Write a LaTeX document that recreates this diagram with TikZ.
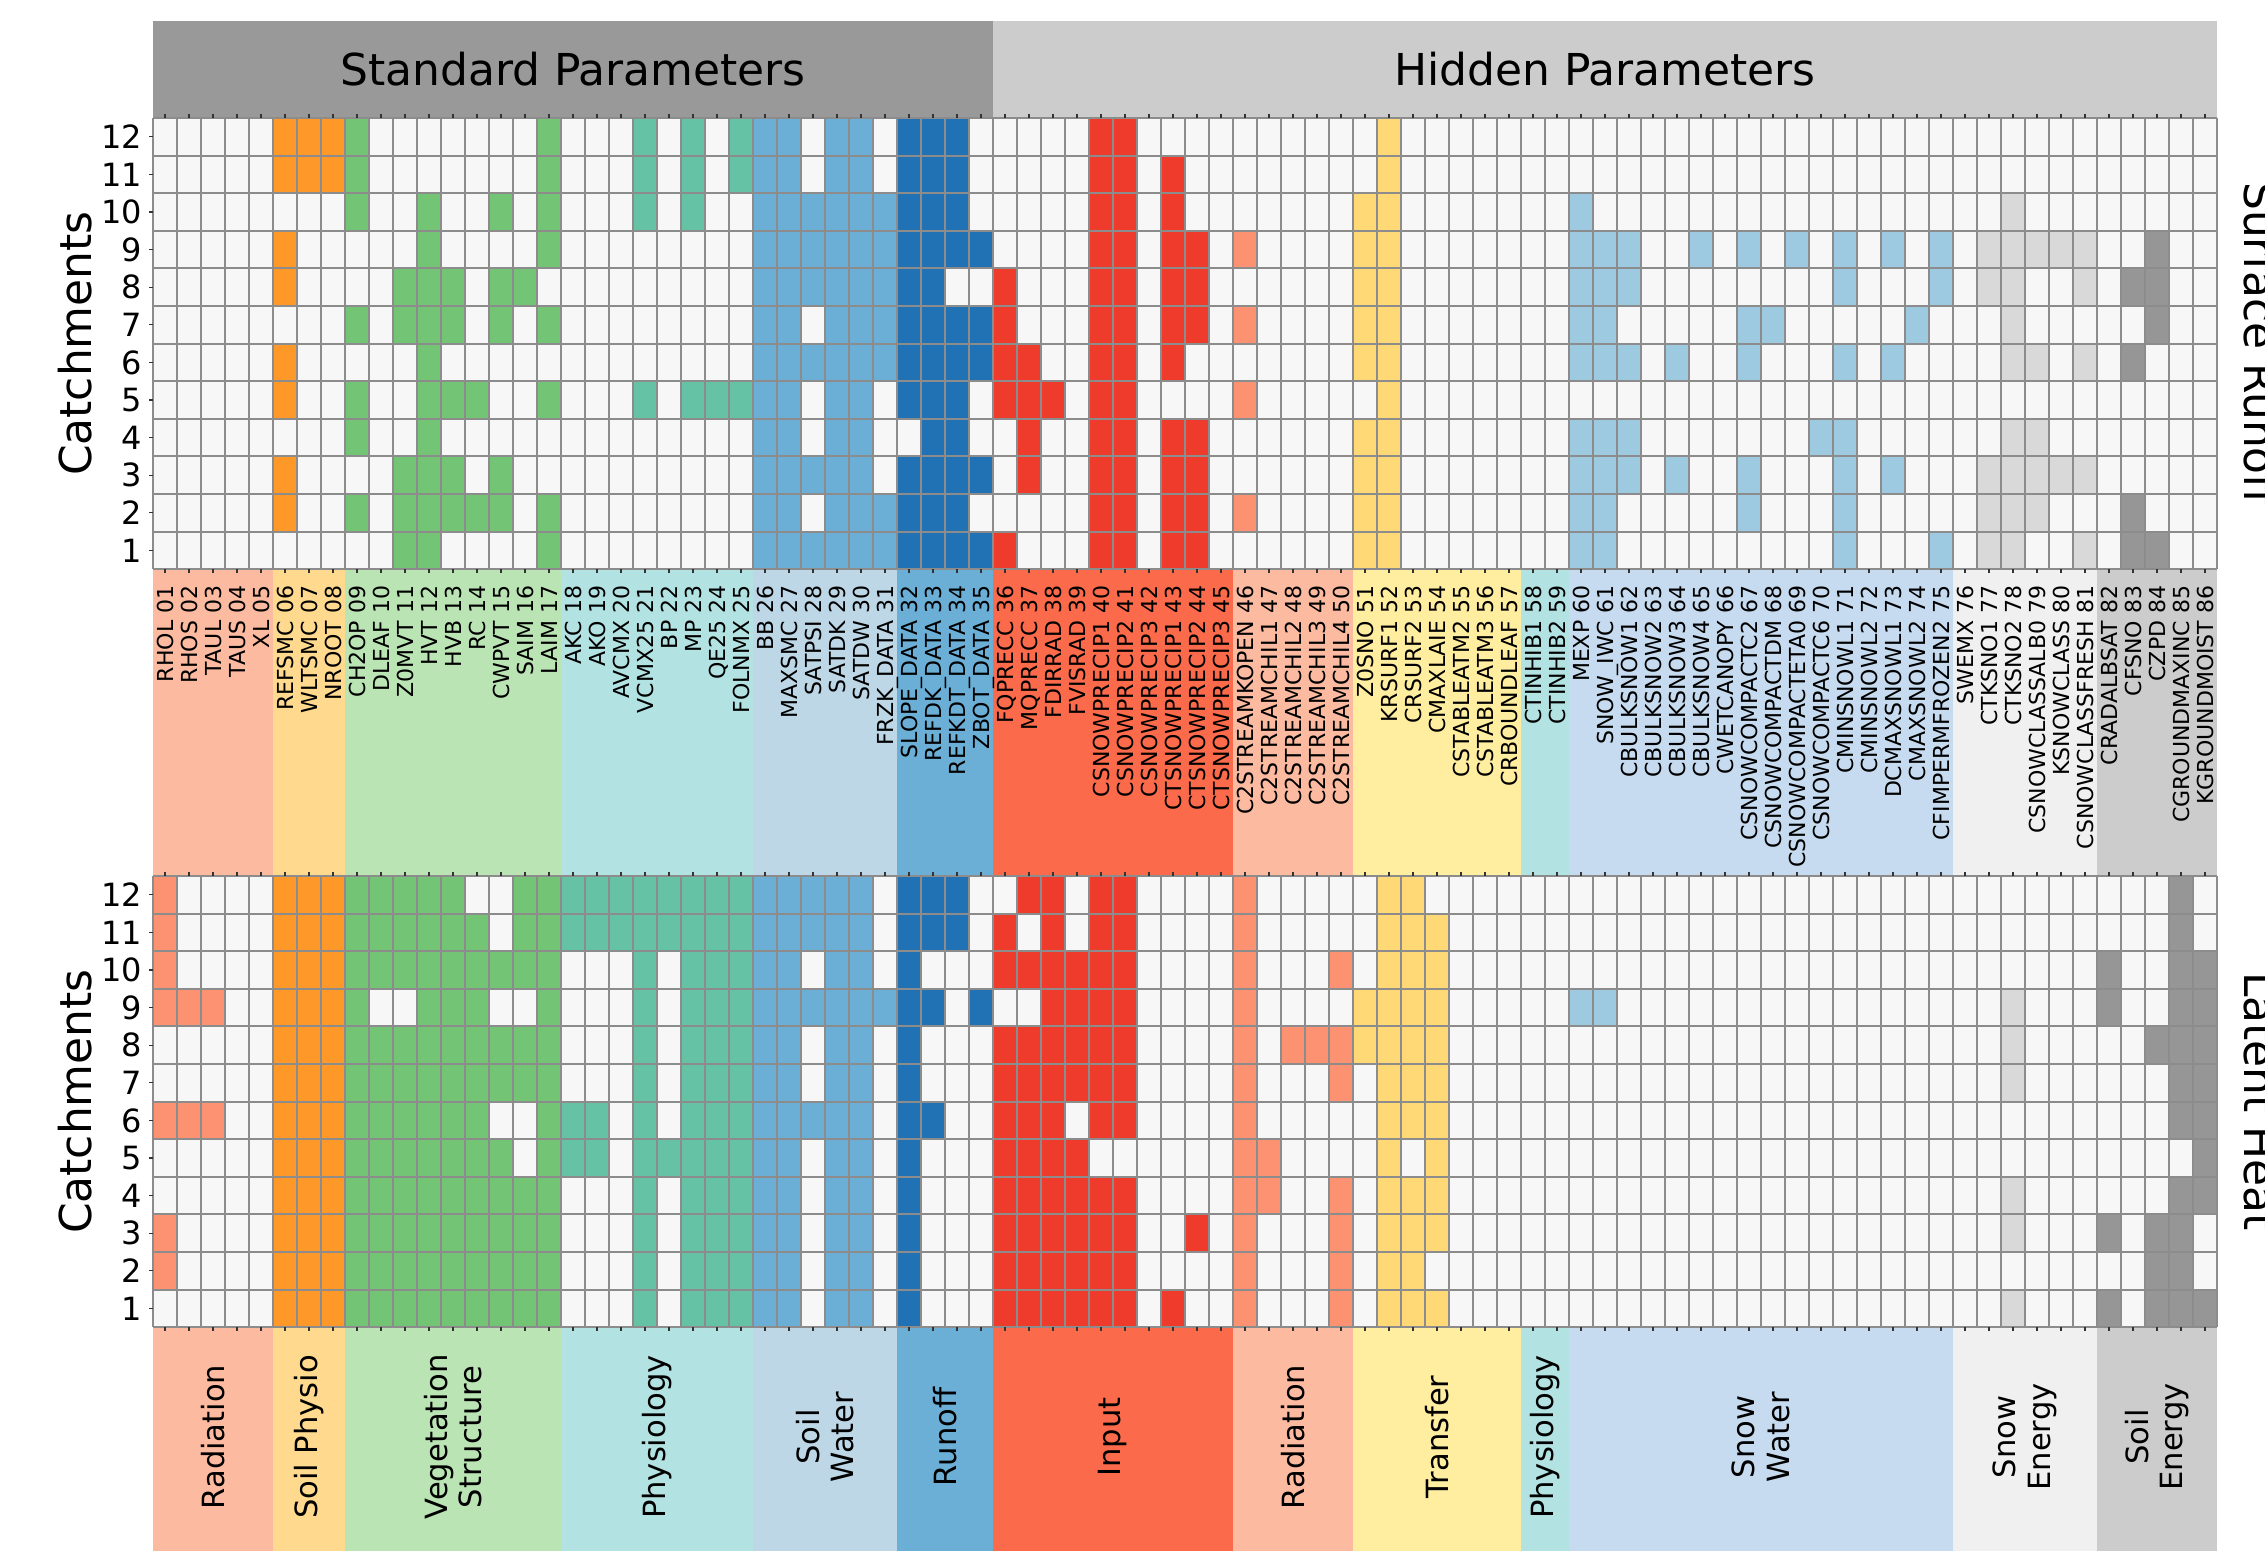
\documentclass[tikz,border=0pt]{standalone}
\usepackage{fontspec}
\setmainfont{DejaVu Sans}
\definecolor{emptyc}{HTML}{F7F7F7}
\definecolor{gridc}{HTML}{8C8C8C}
\definecolor{stdhd}{HTML}{999999}
\definecolor{hidhd}{HTML}{CCCCCC}
\definecolor{radband}{HTML}{FCBBA1}
\definecolor{soilband}{HTML}{FED98E}
\definecolor{vegband}{HTML}{BAE4B3}
\definecolor{physband}{HTML}{B2E2E2}
\definecolor{swband}{HTML}{BDD7E7}
\definecolor{roband}{HTML}{6BAED6}
\definecolor{inband}{HTML}{FB6A4A}
\definecolor{trband}{HTML}{FFEDA0}
\definecolor{snwband}{HTML}{C6DBEF}
\definecolor{sneband}{HTML}{F0F0F0}
\definecolor{soeband}{HTML}{CCCCCC}
\definecolor{radc}{HTML}{FC9272}
\definecolor{soilc}{HTML}{FE9929}
\definecolor{vegc}{HTML}{74C476}
\definecolor{physc}{HTML}{66C2A4}
\definecolor{swc}{HTML}{6BAED6}
\definecolor{roc}{HTML}{2171B5}
\definecolor{inc}{HTML}{EF3B2C}
\definecolor{trc}{HTML}{FED976}
\definecolor{snwc}{HTML}{9ECAE1}
\definecolor{snec}{HTML}{D9D9D9}
\definecolor{soec}{HTML}{969696}
\tikzset{
  biglab/.style={font=\fontsize{12.5}{15}\selectfont, inner sep=0pt},
  rowlab/.style={font=\fontsize{9.1}{11}\selectfont, inner sep=0pt, anchor=east},
  collab/.style={font=\fontsize{6.26}{7}\selectfont, inner sep=0pt, rotate=90, anchor=east,
    text height=4.57pt, text depth=0pt},
  grplab/.style={font=\fontsize{8.7}{9.8}\selectfont, inner sep=0pt, rotate=90, align=center},
  vline/.style={draw=gridc, line width=0.4pt},
  hline/.style={draw=gridc, line width=0.55pt},
  tick/.style={draw=black!80, line width=0.3pt}
}
\newcommand\hmcells[3]{\foreach \c/\rl in {#3}{\foreach \r in \rl{
  \fill[#2] ({153+24*(\c-1)},{-#1-37.6*(12-\r)}) rectangle +(24,-37.6);}}}
\newcommand\hmback[1]{\fill[emptyc] (153,-#1) rectangle (2217,{-#1-451.2});}
\newcommand\hmlines[1]{
  \foreach \i in {0,...,86} \draw[vline] ({153+24*\i},-#1) -- ++(0,-451.2);
  \foreach \j in {0,...,12} \draw[hline] (153,{-#1-37.6*\j}) -- ++(2064,0);
  \foreach \i in {1,...,86} {\draw[tick] ({141+24*\i},-#1) -- ++(0,4);
    \draw[tick] ({141+24*\i},{-#1-451.2}) -- ++(0,-4);}
  \foreach \j in {1,...,12} \draw[tick] (153,{-#1-37.6*\j+18.8}) -- ++(-4,0);}

\begin{document}
\begin{tikzpicture}[x=0.01cm, y=0.01cm]
\fill[white] (0,0) rectangle (2265,-1551);
\useasboundingbox (0,0) rectangle (2265,-1551);

\fill[stdhd] (153,-21) rectangle (993,-118);
\fill[hidhd] (993,-21) rectangle (2217,-118);
\node[biglab] (hdstd) at (573,-69.5) {Standard Parameters};
\node[biglab] (hdhid) at (1605,-69.5) {Hidden Parameters};

\foreach \a/\b/\bc/\gl in {1/5/radband/Radiation, 6/8/soilband/Soil Physio,
  9/17/vegband/{Vegetation\\Structure}, 18/25/physband/Physiology, 26/31/swband/{Soil\\Water},
  32/35/roband/Runoff, 36/45/inband/Input, 46/50/radband/Radiation, 51/57/trband/Transfer,
  58/59/physband/Physiology, 60/75/snwband/{Snow\\Water}, 76/81/sneband/{Snow\\Energy},
  82/86/soeband/{Soil\\Energy}} {
  \fill[\bc] ({153+24*(\a-1)},-569) rectangle ({153+24*\b},-876);
  \fill[\bc] ({153+24*(\a-1)},-1327) rectangle ({153+24*\b},-1551);
  \node[grplab] (grp\a) at ({153+12*(\a-1+\b)},-1437) {\gl};
}

\hmback{118}
\hmcells{118}{soilc}{6/{12,11,9,8,6,5,3,2},7/{12,11},8/{12,11}}
\hmcells{118}{vegc}{9/{12,11,10,7,5,4,2},11/{8,7,3,2,1},12/{10,9,8,7,6,5,4,3,2,1},13/{8,7,5,3,2},
  14/{5,2},15/{10,8,7,3,2},16/{8},17/{12,11,10,9,7,5,2,1}}
\hmcells{118}{physc}{21/{12,11,10,5},23/{12,11,10,5},24/{5},25/{12,11,5}}
\hmcells{118}{swc}{26/{1,...,12},27/{1,...,12},28/{10,9,8,6,3,1},29/{1,...,12},30/{1,...,12},
  31/{10,9,8,7,6,2,1}}
\hmcells{118}{roc}{32/{12,11,10,9,8,7,6,5,3,2,1},33/{1,...,12},34/{12,11,10,9,7,6,5,4,3,2,1},
  35/{9,7,6,3,1}}
\hmcells{118}{inc}{36/{8,7,6,5,1},37/{6,5,4,3},38/{5},40/{1,...,12},41/{1,...,12},
  43/{11,10,9,8,7,6,4,3,2,1},44/{9,8,7,4,3,2,1}}
\hmcells{118}{radc}{46/{9,7,5,2}}
\hmcells{118}{trc}{51/{10,9,8,7,6,4,3,2,1},52/{1,...,12}}
\hmcells{118}{snwc}{60/{10,9,8,7,6,4,3,2,1},61/{9,8,7,6,4,3,2,1},62/{9,8,6,4,3},64/{6,3},65/{9},
  67/{9,7,6,3,2},68/{7},69/{9},70/{4},71/{9,8,6,4,3,2,1},73/{9,6,3},74/{7},75/{9,8,1}}
\hmcells{118}{snec}{77/{9,8,3,2,1},78/{10,9,8,7,6,4,3,2,1},79/{9,6,4,3,2},80/{9,3},81/{9,8,6,3,1}}
\hmcells{118}{soec}{83/{8,6,2,1},84/{9,8,7,1}}
\hmlines{118}

\hmback{876}
\hmcells{876}{radc}{1/{12,11,10,9,6,3,2},2/{9,6},3/{9,6}}
\hmcells{876}{soilc}{6/{1,...,12},7/{1,...,12},8/{1,...,12}}
\hmcells{876}{vegc}{9/{1,...,12},10/{12,11,10,8,7,6,5,4,3,2,1},11/{12,11,10,8,7,6,5,4,3,2,1},
  12/{1,...,12},13/{1,...,12},14/{1,...,11},15/{10,8,7,5,4,3,2,1},16/{12,11,10,8,7,4,3,2,1},
  17/{1,...,12}}
\hmcells{876}{physc}{18/{12,11,6,5},19/{12,11,6,5},20/{12,11},21/{1,...,12},22/{12,11,5},
  23/{1,...,12},24/{1,...,12},25/{1,...,12}}
\hmcells{876}{swc}{26/{1,...,12},27/{1,...,12},28/{12,11,9,6},29/{1,...,12},30/{1,...,12},31/{9}}
\hmcells{876}{roc}{32/{1,...,12},33/{12,11,9,6},34/{12,11},35/{9}}
\hmcells{876}{inc}{36/{11,10,8,7,6,5,4,3,2,1},37/{12,10,8,7,6,5,4,3,2,1},38/{1,...,12},
  39/{10,9,8,7,5,4,3,2,1},40/{12,11,10,9,8,7,6,4,3,2,1},41/{12,11,10,9,8,7,6,4,3,2,1},43/{1},44/{3}}
\hmcells{876}{radc}{46/{1,...,12},47/{5,4},48/{8},49/{8},50/{10,8,7,4,3,2,1}}
\hmcells{876}{trc}{51/{9,8},52/{1,...,12},53/{12,11,10,9,8,7,6,4,3,2,1},54/{11,10,9,8,7,6,5,4,3,1}}
\hmcells{876}{snwc}{60/{9},61/{9}}
\hmcells{876}{snec}{78/{9,8,7,4,3,1}}
\hmcells{876}{soec}{82/{10,9,3,1},84/{8,3,2,1},85/{12,11,10,9,8,7,6,4,3,2,1},86/{10,9,8,7,6,5,4,1}}
\hmlines{876}

\foreach \r in {1,...,12} {
  \node[rowlab] (rsr\r) at (143,{-118-37.6*(12-\r)-18.8}) {\r};
  \node[rowlab] (rlh\r) at (143,{-876-37.6*(12-\r)-18.8}) {\r};
}
\node[biglab, rotate=90, anchor=south] (catsr) at (93,-343.6) {Catchments};
\node[biglab, rotate=90, anchor=south] (catlh) at (93,-1101.6) {Catchments};
\node[biglab, rotate=-90, anchor=south] (outsr) at (2243,-343.6) {Surface Runoff};
\node[biglab, rotate=-90, anchor=south] (outlh) at (2243,-1101.6) {Latent Heat};

\foreach \n [count=\c] in {RHOL,RHOS,TAUL,TAUS,XL,REFSMC,WLTSMC,NROOT,CH2OP,DLEAF,Z0MVT,HVT,HVB,RC,
  CWPVT,SAIM,LAIM,AKC,AKO,AVCMX,VCMX25,BP,MP,QE25,FOLNMX,BB,MAXSMC,SATPSI,SATDK,SATDW,FRZK\_DATA,
  SLOPE\_DATA,REFDK\_DATA,REFKDT\_DATA,ZBOT\_DATA,FQPRECC,MQPRECC,FDIRRAD,FVISRAD,CSNOWPRECIP1,
  CSNOWPRECIP2,CSNOWPRECIP3,CTSNOWPRECIP1,CTSNOWPRECIP2,CTSNOWPRECIP3,C2STREAMKOPEN,C2STREAMCHIL1,
  C2STREAMCHIL2,C2STREAMCHIL3,C2STREAMCHIL4,Z0SNO,KRSURF1,CRSURF2,CMAXLAIE,CSTABLEATM2,CSTABLEATM3,
  CRBOUNDLEAF,CTINHIB1,CTINHIB2,MEXP,SNOW\_IWC,CBULKSNOW1,CBULKSNOW2,CBULKSNOW3,CBULKSNOW4,
  CWETCANOPY,CSNOWCOMPACTC2,CSNOWCOMPACTDM,CSNOWCOMPACTETA0,CSNOWCOMPACTC6,CMINSNOWL1,CMINSNOWL2,
  DCMAXSNOWL1,CMAXSNOWL2,CFIMPERMFROZEN2,SWEMX,CTKSNO1,CTKSNO2,CSNOWCLASSALB0,KSNOWCLASS,
  CSNOWCLASSFRESH,CRADALBSAT,CFSNO,CZPD,CGROUNDMAXINC,KGROUNDMOIST}
  \node[collab] (par\c) at ({141+24*\c},-585) {\n\ \ifnum\c<10 0\fi\c};

\end{tikzpicture}
\end{document}
